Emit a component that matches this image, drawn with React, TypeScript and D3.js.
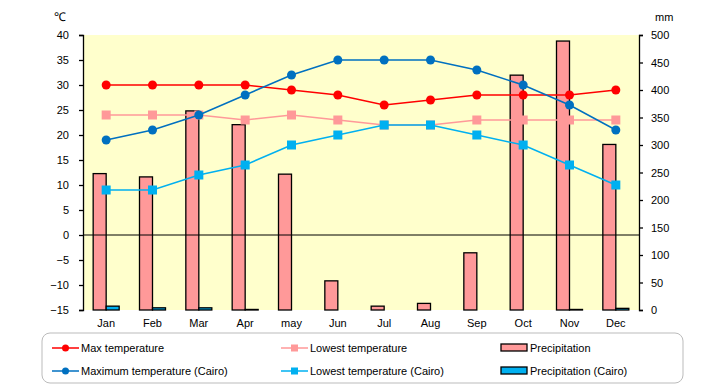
import React, { useEffect, useRef } from 'react';
import * as d3 from 'd3';

const months = ['Jan', 'Feb', 'Mar', 'Apr', 'may', 'Jun', 'Jul', 'Aug', 'Sep', 'Oct', 'Nov', 'Dec'];
const maxTemp = [30, 30, 30, 30, 29, 28, 26, 27, 28, 28, 28, 29];
const lowTemp = [24, 24, 24, 23, 24, 23, 22, 22, 23, 23, 23, 23];
const maxTempCairo = [19, 21, 24, 28, 32, 35, 35, 35, 33, 30, 26, 21];
const lowTempCairo = [9, 9, 12, 14, 18, 20, 22, 22, 20, 18, 14, 10];
const precip = [248, 242, 362, 337, 247, 53, 7, 12, 104, 427, 489, 301];
const precipCairo = [7, 4, 4, 1, 0, 0, 0, 0, 0, 0, 1, 3];
const tempTicks = [-15, -10, -5, 0, 5, 10, 15, 20, 25, 30, 35, 40];
const mmTicks = [0, 50, 100, 150, 200, 250, 300, 350, 400, 450, 500];

const FONT = '"Liberation Sans", Arial, sans-serif';

const App: React.FC = () => {
  const svgRef = useRef<SVGSVGElement>(null);

  useEffect(() => {
    document.body.style.margin = '0';
    if (!svgRef.current) return;
    const svg = d3.select(svgRef.current);
    svg.selectAll('*').remove();

    const left = 83, right = 639, top = 35, bottom = 310;

    const x = d3.scaleBand<string>().domain(months).range([left, right]);
    const cx = (i: number) => (x(months[i]) as number) + x.bandwidth() / 2;
    const yT = d3.scaleLinear().domain([-15, 40]).range([bottom, top]);
    const yP = d3.scaleLinear().domain([0, 500]).range([bottom, top]);

    // plot background
    svg.append('rect')
      .attr('x', left).attr('y', top)
      .attr('width', right - left).attr('height', bottom - top)
      .attr('fill', '#FFFFCC');

    // bars
    const bw = 13;
    svg.append('g').selectAll('rect')
      .data(precip)
      .join('rect')
      .attr('x', (d, i) => cx(i) - bw)
      .attr('y', d => yP(d))
      .attr('width', bw)
      .attr('height', d => bottom - yP(d))
      .attr('fill', '#FF9999')
      .attr('stroke', '#000')
      .attr('stroke-width', 1.3);

    svg.append('g').selectAll('rect')
      .data(precipCairo)
      .join('rect')
      .attr('x', (d, i) => cx(i))
      .attr('y', d => yP(d))
      .attr('width', bw)
      .attr('height', d => bottom - yP(d))
      .attr('fill', '#00B0F0')
      .attr('stroke', '#000')
      .attr('stroke-width', 1.3);

    // zero line
    svg.append('line')
      .attr('x1', left).attr('x2', right)
      .attr('y1', yT(0)).attr('y2', yT(0))
      .attr('stroke', '#000').attr('stroke-width', 1);

    // axes
    const axL = svg.append('g')
      .attr('transform', `translate(${left},0)`)
      .call(d3.axisLeft(yT).tickValues(tempTicks).tickSize(4).tickPadding(10));
    const axR = svg.append('g')
      .attr('transform', `translate(${right},0)`)
      .call(d3.axisRight(yP).tickValues(mmTicks).tickSize(4).tickPadding(8));
    [axL, axR].forEach(ax => {
      ax.select('.domain').attr('stroke', '#000').attr('stroke-width', 1.3);
      ax.selectAll('line').attr('stroke', '#000').attr('stroke-width', 1.3);
      ax.selectAll('text')
        .attr('fill', '#000')
        .style('font-size', '11px')
        .style('font-family', FONT);
    });
    axL.selectAll('text').text((d: any) => d < 0 ? '\u2212' + Math.abs(d) : String(d));

    // month labels
    svg.append('g').selectAll('text')
      .data(months)
      .join('text')
      .attr('x', (d, i) => cx(i))
      .attr('y', 327)
      .attr('text-anchor', 'middle')
      .style('font-size', '11px')
      .style('font-family', FONT)
      .text(d => d);

    // unit labels
    svg.append('text').attr('x', 54).attr('y', 21).style('font-size', '12px').style('font-family', FONT).text('\u2103');
    svg.append('text').attr('x', 655).attr('y', 21).style('font-size', '11px').style('font-family', FONT).text('mm');

    // lines
    const series = [
      { data: lowTemp, color: '#FF9999', marker: 'square' },
      { data: lowTempCairo, color: '#00B0F0', marker: 'square' },
      { data: maxTemp, color: '#FF0000', marker: 'circle' },
      { data: maxTempCairo, color: '#0070C0', marker: 'circle' },
    ];
    const line = d3.line<number>().x((d, i) => cx(i)).y(d => yT(d));
    series.forEach(s => {
      svg.append('path')
        .datum(s.data)
        .attr('fill', 'none')
        .attr('stroke', s.color)
        .attr('stroke-width', 1.5)
        .attr('d', line);
      if (s.marker === 'circle') {
        svg.append('g').selectAll('circle')
          .data(s.data)
          .join('circle')
          .attr('cx', (d, i) => cx(i))
          .attr('cy', d => yT(d))
          .attr('r', 4.5)
          .attr('fill', s.color);
      } else {
        svg.append('g').selectAll('rect')
          .data(s.data)
          .join('rect')
          .attr('x', (d, i) => cx(i) - 4.5)
          .attr('y', d => yT(d) - 4.5)
          .attr('width', 9)
          .attr('height', 9)
          .attr('fill', s.color);
      }
    });

    // legend
    svg.append('rect')
      .attr('x', 42).attr('y', 333)
      .attr('width', 641).attr('height', 50)
      .attr('rx', 8)
      .attr('fill', '#fff')
      .attr('stroke', '#BBBBBB')
      .attr('stroke-width', 1);

    const legendItems = [
      { label: 'Max temperature', color: '#FF0000', kind: 'circle', lx: 52, ly: 348 },
      { label: 'Maximum temperature (Cairo)', color: '#0070C0', kind: 'circle', lx: 52, ly: 371 },
      { label: 'Lowest temperature', color: '#FF9999', kind: 'square', lx: 281, ly: 348 },
      { label: 'Lowest temperature (Cairo)', color: '#00B0F0', kind: 'square', lx: 281, ly: 371 },
      { label: 'Precipitation', color: '#FF9999', kind: 'bar', lx: 501, ly: 348 },
      { label: 'Precipitation (Cairo)', color: '#00B0F0', kind: 'bar', lx: 501, ly: 371 },
    ];
    legendItems.forEach(it => {
      const g = svg.append('g');
      if (it.kind === 'bar') {
        g.append('rect')
          .attr('x', it.lx).attr('y', it.ly - 4)
          .attr('width', 26).attr('height', 7)
          .attr('fill', it.color)
          .attr('stroke', '#000').attr('stroke-width', 1.3);
      } else {
        g.append('line')
          .attr('x1', it.lx).attr('x2', it.lx + 27)
          .attr('y1', it.ly).attr('y2', it.ly)
          .attr('stroke', it.color).attr('stroke-width', 1.5);
        if (it.kind === 'circle') {
          g.append('circle').attr('cx', it.lx + 13.5).attr('cy', it.ly).attr('r', 3.5).attr('fill', it.color);
        } else {
          g.append('rect').attr('x', it.lx + 10).attr('y', it.ly - 3.5).attr('width', 7).attr('height', 7).attr('fill', it.color);
        }
      }
      g.append('text')
        .attr('x', it.lx + 29)
        .attr('y', it.ly + 4)
        .style('font-size', '11px')
        .style('font-family', FONT)
        .text(it.label);
    });
  }, []);

  return (
    <svg ref={svgRef} width={720} height={385} style={{ display: 'block', background: '#fff' }} />
  );
};

export default App;
